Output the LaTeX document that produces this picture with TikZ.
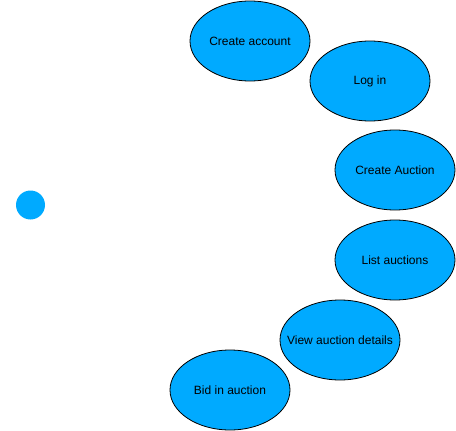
\documentclass[tikz,border=0pt]{standalone}
\usepackage{fontspec}
\setmainfont{Liberation Sans}
\usetikzlibrary{shapes.geometric}
\definecolor{uc}{HTML}{00AAFF}
\begin{document}
\begin{tikzpicture}[x=1pt,y=-1pt,
  usecase/.style={ellipse,draw=black,fill=uc,line width=0.8pt,minimum width=120pt,minimum height=80pt,inner sep=0pt,
    label={[font=\fontsize{12}{14}\selectfont,inner sep=0pt]center:#1}},
  actor/.style={circle,fill=uc,minimum size=29pt,inner sep=0pt}]
\useasboundingbox (0,0) rectangle (456,431);
\node[actor] (start) at (30.5,205) {};
\node[usecase=Create account] (create) at (250,41) {};
\node[usecase=Log in] (login) at (370,81) {};
\node[usecase=Create Auction] (auction) at (395,170) {};
\node[usecase=List auctions] (list) at (395,260) {};
\node[usecase=View auction details] (view) at (340,340) {};
\node[usecase=Bid in auction] (bid) at (230,390) {};
\end{tikzpicture}
\end{document}
